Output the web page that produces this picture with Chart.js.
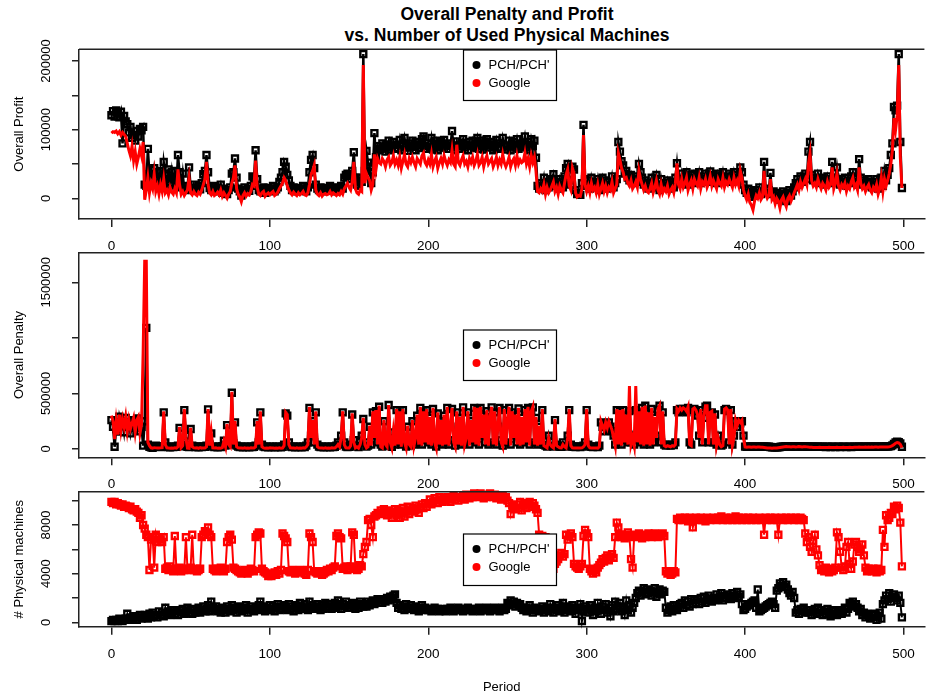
<!DOCTYPE html>
<html>
<head>
<meta charset="utf-8">
<script src="https://cdn.jsdelivr.net/npm/chart.js@4.4.1/dist/chart.umd.min.js"></script>
<style>
  body { margin: 0; background: #fff; width: 931px; height: 698px; overflow: hidden; position: relative;
         font-family: "Liberation Sans", Arial, sans-serif; }
  canvas { position: absolute; left: 0; }
  #title { position: absolute; left: 0; top: 4px; width: 1014px; text-align: center;
           font-weight: bold; font-size: 17.5px; line-height: 21px; color: #000; }
</style>
</head>
<body>
<div id="title">Overall Penalty and Profit<br>vs. Number of Used Physical Machines</div>
<canvas id="profitChart" width="931" height="256" style="top:0px"></canvas>
<canvas id="penaltyChart" width="931" height="256" style="top:240px"></canvas>
<canvas id="machineChart" width="931" height="228" style="top:470px"></canvas>
<script>
// periods 0..499
const periods = Array.from({ length: 500 }, (_, i) => i);
const periodTicks = [0, 100, 200, 300, 400, 500];

// overall profit, in thousands
const profitPCH = [
  121,127,119,128,124,118,126,80,120,112,
  108,96,104,88,92,84,98,90,101,99,
  104,20,18,72,35,41,28,44,30,38,
  22,40,18,53,36,15,42,20,38,14,
  40,18,63,38,16,36,12,18,14,45,
  16,12,20,14,11,18,13,22,35,40,
  63,38,15,12,18,10,14,16,12,20,
  8,14,10,6,12,16,36,38,58,30,
  14,10,4,12,16,9,14,11,18,32,
  30,70,28,12,10,14,16,8,12,15,
  11,14,18,10,13,16,24,30,38,53,
  46,34,26,18,12,16,14,10,15,12,
  14,18,12,10,16,38,56,63,44,20,
  14,12,16,10,13,15,11,14,18,12,
  16,13,10,15,12,18,14,30,34,36,
  32,28,40,67,30,20,18,30,24,210,
  40,69,52,46,22,38,95,60,76,70,
  72,80,74,68,78,84,70,76,82,73,
  78,72,85,70,76,88,74,69,80,77,
  84,75,70,82,78,73,86,90,76,72,
  80,74,88,71,78,84,70,76,82,74,
  85,79,72,80,76,98,74,70,83,77,
  72,81,86,74,78,70,82,76,84,73,
  79,88,72,76,84,71,80,86,74,78,
  82,70,76,85,72,80,74,88,77,71,
  76,84,70,78,82,74,86,72,80,75,
  78,90,74,82,70,86,76,84,59,18,
  14,22,18,30,12,24,16,20,28,35,
  18,24,14,28,20,16,32,44,50,26,
  20,46,42,12,6,8,5,22,107,28,
  18,26,14,30,20,24,16,28,12,22,
  30,18,26,14,24,20,32,16,22,28,
  82,68,54,48,36,40,30,26,34,22,
  28,32,24,50,38,30,20,26,18,14,
  22,30,16,24,34,20,12,28,16,22,
  18,26,14,20,24,16,30,51,28,22,
  36,24,30,38,20,28,34,22,36,30,
  26,38,22,32,28,36,24,30,39,26,
  34,28,22,36,30,26,38,24,32,28,
  36,30,24,38,28,34,26,45,38,20,
  12,8,14,6,2,10,4,12,8,16,
  6,10,53,14,8,12,37,6,10,2,
  8,4,-2,6,10,2,-4,8,12,4,
  10,16,22,28,20,32,24,30,36,28,
  68,82,34,26,30,24,36,28,22,30,
  26,20,32,24,28,53,22,30,45,26,
  20,28,24,30,18,26,22,32,38,24,
  28,20,57,30,22,26,18,24,28,20,
  16,24,20,28,14,22,30,18,40,26,
  34,44,63,80,133,128,135,210,82,15
];
const profitGoogle = [
  95,97,96,98,94,97,92,96,93,90,
  80,70,62,76,55,68,50,60,72,62,
  82,-2,12,30,8,22,14,35,10,18,
  6,20,10,28,8,12,5,16,9,6,
  14,8,42,20,6,10,4,8,12,30,
  8,5,10,6,4,9,6,12,20,28,
  53,20,8,5,10,4,6,9,5,12,
  3,8,4,0,6,10,22,30,48,14,
  6,2,-5,4,8,3,7,5,10,20,
  18,55,16,6,4,8,10,3,6,8,
  5,8,10,4,6,9,14,18,22,30,
  26,18,12,8,5,9,6,4,8,5,
  7,10,5,4,8,20,34,40,48,12,
  6,4,8,3,6,7,5,6,10,5,
  8,6,4,7,5,10,6,14,18,22,
  16,12,24,53,14,8,6,12,10,194,
  22,36,30,26,12,20,64,42,58,52,
  50,58,54,46,56,60,48,52,62,50,
  56,48,60,44,54,64,50,46,58,52,
  60,52,46,58,54,50,62,66,52,48,
  56,50,64,46,54,60,44,52,58,50,
  62,54,48,56,52,70,50,46,78,52,
  48,56,62,50,54,46,58,52,60,48,
  54,64,48,52,60,46,56,62,50,54,
  58,46,52,60,48,56,50,64,52,46,
  52,60,46,54,58,48,62,50,56,52,
  54,66,50,58,46,62,52,60,40,10,
  8,14,10,20,6,16,8,12,18,24,
  10,16,6,18,12,8,22,34,42,18,
  12,44,36,8,2,4,3,14,92,20,
  10,18,8,22,12,16,8,20,6,14,
  22,10,18,8,16,12,24,8,14,20,
  66,56,44,38,28,30,22,18,26,14,
  18,24,16,40,28,20,12,18,10,8,
  14,22,8,16,26,12,6,20,8,14,
  10,18,6,12,16,8,22,51,20,14,
  28,16,22,30,12,20,26,14,28,22,
  18,30,14,24,20,28,16,22,32,18,
  26,20,14,28,22,18,30,16,24,20,
  28,22,16,30,20,26,18,40,30,12,
  4,-2,6,-6,-10,-17,-4,4,0,8,
  -2,2,40,6,0,4,28,-2,2,-8,
  0,-4,-14,-2,2,-6,-12,0,4,-4,
  2,8,14,20,12,24,16,22,28,20,
  50,65,26,18,22,16,28,20,14,22,
  18,12,24,16,20,45,14,22,36,18,
  12,20,16,22,10,18,14,24,30,16,
  20,12,45,22,14,18,10,16,20,12,
  8,16,12,20,6,14,30,10,28,18,
  26,36,50,70,117,100,120,194,60,15
];
const profitTicks = [0, 50000, 100000, 150000, 200000];
const profitTickLabels = [0, 100000, 200000];

// overall penalty, in thousands
const penaltyPCH = [
  260,200,20,180,156,290,230,250,150,280,
  200,240,140,220,260,190,230,275,160,200,
  30,250,1090,40,20,15,10,25,30,20,
  20,18,25,330,60,22,18,15,20,18,
  22,20,30,190,25,40,350,120,20,18,
  180,30,22,18,20,16,24,18,22,20,
  30,357,40,140,22,18,20,15,22,18,
  25,75,30,215,60,40,506,50,240,30,
  22,18,20,16,22,18,20,15,22,18,
  20,30,240,60,330,40,22,18,20,16,
  22,18,20,16,20,18,22,15,20,40,
  320,300,60,22,18,20,16,22,18,20,
  16,22,18,30,60,370,120,250,60,330,
  40,22,18,20,16,22,18,20,15,22,
  18,20,30,60,40,120,330,60,22,18,
  20,40,310,80,22,30,18,60,120,270,
  60,22,30,200,40,330,120,340,60,380,
  40,22,250,60,30,396,80,20,150,40,
  350,60,330,40,350,80,22,200,60,30,
  250,40,120,300,60,370,40,330,80,350,
  60,280,40,360,80,22,320,60,250,40,
  300,60,370,40,200,360,80,30,330,60,
  280,40,375,60,120,330,40,250,80,370,
  60,360,40,370,120,300,60,340,40,280,
  375,60,330,40,200,370,80,30,350,60,
  250,370,40,330,120,300,60,365,40,280,
  60,350,80,370,40,330,375,60,280,40,
  200,60,350,40,30,22,120,60,30,22,
  260,40,30,22,20,60,30,22,120,350,
  40,22,20,18,22,20,18,22,30,60,
  350,40,22,20,18,22,20,18,30,240,
  200,160,230,180,240,200,160,120,40,350,
  60,340,40,350,80,300,60,340,60,120,
  40,350,80,330,60,370,40,390,60,320,
  40,360,60,280,120,350,390,60,330,40,
  30,40,35,30,40,35,60,350,330,360,
  340,360,350,330,370,60,40,350,360,340,
  300,120,350,60,280,380,390,60,320,330,
  60,310,40,120,60,30,40,350,360,340,
  60,350,40,120,250,200,250,230,250,120,
  22,20,21,22,20,21,22,20,21,22,
  20,21,22,20,21,20,18,16,15,16,
  15,16,18,20,22,24,23,25,24,22,
  23,24,22,23,25,24,22,23,24,22,
  21,20,22,21,20,19,20,21,19,20,
  19,18,20,19,18,20,19,18,19,20,
  18,19,20,19,18,19,20,18,19,20,
  19,20,21,19,20,21,20,19,21,20,
  21,20,22,21,20,22,21,22,21,23,
  22,24,26,32,45,60,66,62,50,20
];
const penaltyGoogle = [
  300,250,90,250,130,310,170,270,200,290,
  160,260,180,230,280,150,260,290,140,220,
  860,1690,1690,60,30,10,8,12,10,8,
  8,10,12,340,40,10,8,6,9,7,
  10,8,20,200,12,30,360,100,8,6,
  190,20,10,8,10,6,12,8,10,9,
  20,360,30,150,10,8,10,6,9,7,
  12,70,20,225,40,20,515,40,250,20,
  10,8,9,6,10,7,9,6,10,8,
  9,20,250,40,340,20,10,7,8,6,
  10,8,9,6,8,7,10,6,8,30,
  330,310,40,10,8,9,6,10,7,8,
  6,10,8,20,40,380,100,260,40,340,
  20,10,8,9,6,10,7,8,6,10,
  8,9,20,40,20,100,340,40,10,8,
  9,30,320,60,10,20,8,40,100,280,
  40,10,20,210,30,340,100,350,40,390,
  20,10,260,40,20,396,60,10,160,30,
  360,40,340,20,360,60,10,210,40,20,
  260,30,100,310,40,380,30,340,60,360,
  40,290,30,370,60,10,330,40,260,30,
  310,40,380,30,210,370,60,20,340,40,
  290,30,380,40,100,340,30,260,60,380,
  40,370,30,380,100,310,40,350,30,290,
  380,40,340,30,210,380,60,20,360,40,
  260,380,30,340,100,310,40,370,30,290,
  40,360,60,380,30,340,380,40,290,30,
  210,40,360,30,20,10,100,40,20,10,
  270,30,20,10,9,40,20,10,100,360,
  30,10,9,8,10,9,8,10,20,40,
  360,30,10,9,8,10,9,8,20,250,
  210,170,240,190,250,210,170,100,30,360,
  40,350,30,360,60,310,40,566,40,100,
  30,566,60,340,40,380,30,390,40,330,
  30,370,40,290,100,360,390,40,340,30,
  20,30,25,20,30,25,40,360,340,370,
  350,370,360,340,380,40,30,360,370,350,
  310,100,360,40,290,390,390,40,330,340,
  40,320,30,100,40,20,30,360,370,350,
  40,360,30,100,260,210,260,240,260,100,
  18,16,17,18,16,17,18,16,17,18,
  16,15,14,12,10,9,8,7,8,9,
  10,12,14,16,18,20,22,21,20,19,
  20,21,19,20,22,21,19,20,21,19,
  17,16,15,14,14,13,14,15,14,13,
  14,13,14,15,13,14,13,14,15,14,
  13,14,15,14,13,14,15,13,14,15,
  15,16,17,16,15,16,17,16,17,16,
  17,16,18,17,16,18,17,18,17,19,
  18,20,24,30,40,52,58,55,42,12
];
const penaltyTicks = [0, 500000, 1000000, 1500000];
const penaltyTickLabels = [0, 500000, 1500000];

// used physical machines, in hundreds
const machinesPCH = [
  1,2,1,2,1,3,2,1,2,3,
  7,3,2,4,3,5,2,4,6,3,
  4,6,5,3,7,4,8,5,6,4,
  9,6,8,5,12,7,9,6,8,10,
  7,9,6,10,8,11,7,9,12,8,
  10,7,11,8,9,12,8,10,13,9,
  11,14,9,17,12,10,13,9,11,8,
  12,10,8,13,11,9,14,10,12,8,
  11,13,9,12,10,14,8,11,13,10,
  9,12,10,14,17,11,13,9,12,10,
  14,11,13,9,12,15,10,13,11,14,
  12,10,15,11,13,9,14,12,10,16,
  13,11,15,12,10,17,12,14,11,13,
  15,12,10,14,11,16,13,12,15,11,
  13,16,12,18,14,11,15,13,17,12,
  14,12,16,13,11,15,12,17,14,13,
  15,13,17,14,16,18,15,17,19,16,
  18,16,19,17,20,18,21,19,22,23,
  16,12,14,11,13,10,15,12,11,14,
  12,10,13,11,9,12,14,10,12,11,
  10,11,9,10,12,10,11,9,10,11,
  10,9,11,10,12,10,9,11,10,12,
  11,10,9,11,10,12,10,11,9,10,
  11,10,12,9,10,11,10,12,10,9,
  11,10,12,11,10,9,11,12,10,11,
  16,14,18,15,17,13,16,14,15,12,
  10,12,9,11,14,10,8,12,10,11,
  9,11,13,8,10,12,9,15,11,8,
  12,10,14,9,11,16,8,10,13,12,
  9,14,11,7,12,10,15,1,9,13,
  11,8,14,10,6,12,9,16,11,7,
  13,10,15,8,12,5,14,9,17,11,
  13,16,9,12,6,18,10,14,8,12,
  16,20,24,26,22,25,28,23,27,24,
  26,22,25,28,21,24,27,23,26,25,
  12,8,10,13,9,14,11,10,13,15,
  16,12,18,14,17,13,19,15,18,16,
  19,15,20,17,21,16,18,22,19,17,
  20,18,23,19,21,24,18,22,20,23,
  21,19,24,22,20,25,21,23,15,10,
  11,13,14,15,16,17,18,12,27,9,
  10,11,12,13,14,15,16,17,15,12,
  26,28,32,30,33,29,31,27,24,22,
  25,20,8,10,7,11,9,12,8,10,
  8,10,6,9,11,7,12,8,10,6,
  9,7,11,8,5,10,7,9,6,8,
  10,7,9,12,8,11,16,14,17,13,
  15,12,9,11,6,8,4,7,5,3,
  6,4,7,2,5,8,3,15,18,22,
  19,24,17,21,23,20,18,22,16,4
];
const machinesGoogle = [
  99,98,99,97,98,97,96,97,95,96,
  95,94,95,93,92,93,91,90,86,88,
  80,77,72,70,43,68,70,45,72,66,
  70,68,66,70,44,45,43,46,44,42,
  71,44,43,45,42,44,43,70,44,43,
  45,72,43,44,42,43,44,70,72,75,
  74,78,72,70,44,43,42,44,43,45,
  43,42,44,66,70,72,68,45,44,43,
  42,41,40,42,43,41,40,42,44,43,
  42,70,72,74,73,44,42,41,40,38,
  39,38,40,41,39,42,40,43,73,71,
  69,66,42,41,43,42,40,41,42,43,
  41,42,40,39,43,73,70,66,42,41,
  40,42,41,39,40,41,43,42,44,43,
  45,46,71,73,70,69,44,45,46,43,
  44,46,74,72,45,43,44,47,46,56,
  62,66,84,85,80,70,87,88,90,89,
  92,90,93,91,88,92,90,86,91,93,
  88,92,86,90,94,87,91,95,89,92,
  94,91,96,93,90,95,97,94,98,95,
  98,101,97,99,102,100,98,103,101,99,
  102,100,103,101,99,102,104,101,103,100,
  103,102,104,101,105,103,102,104,103,106,
  105,103,104,106,104,102,105,103,104,106,
  104,103,105,102,104,103,101,104,102,103,
  100,98,89,96,95,93,97,94,99,92,
  96,98,94,97,99,95,98,96,93,90,
  72,70,71,69,70,58,51,47,46,44,
  48,50,52,55,57,54,56,72,68,71,
  73,70,48,46,45,44,46,48,71,76,
  73,70,44,42,40,43,41,45,47,49,
  52,50,53,55,51,54,56,53,70,82,
  78,72,70,71,69,72,74,70,52,45,
  71,72,70,73,71,69,72,70,71,73,
  72,70,71,73,72,70,71,72,73,71,
  42,40,41,39,40,42,41,85,84,86,
  85,84,86,85,83,86,84,78,85,86,
  84,85,86,84,85,83,86,85,84,85,
  86,85,84,86,85,87,84,85,86,84,
  85,86,84,85,87,84,86,85,84,86,
  85,84,86,85,84,86,85,84,85,86,
  84,85,72,86,84,85,86,84,85,86,
  84,72,85,86,84,85,86,84,85,86,
  85,84,86,85,84,86,85,84,73,66,
  70,62,58,67,72,60,55,47,43,44,
  42,45,43,41,44,42,43,45,74,70,
  58,45,43,46,62,66,48,44,50,64,
  66,62,58,60,64,55,45,42,44,43,
  42,44,43,41,44,42,43,76,62,88,
  84,86,90,89,95,93,96,94,82,46
];
const machineTicks = [0, 2000, 4000, 6000, 8000, 10000];
const machineTickLabels = [0, 4000, 8000];

const FONT = '"Liberation Sans", Arial, sans-serif';
Chart.defaults.font.family = FONT;
Chart.defaults.font.size = 13;
Chart.defaults.color = '#000';

// box top edge, upright-reading y labels and the boxed legend
const frame = {
  id: 'frame',
  afterDraw(chart, args, opts) {
    const { ctx, chartArea: a, scales } = chart;
    ctx.save();
    ctx.strokeStyle = '#222';
    ctx.lineWidth = 1.5;
    ctx.beginPath();
    ctx.moveTo(a.left, a.top);
    ctx.lineTo(a.right, a.top);
    ctx.stroke();

    ctx.fillStyle = '#000';
    ctx.font = '13px ' + FONT;
    ctx.textAlign = 'center';
    ctx.textBaseline = 'middle';
    opts.yLabels.forEach(v => {
      ctx.save();
      ctx.translate(a.left - 33, scales.y.getPixelForValue(v));
      ctx.rotate(-Math.PI / 2);
      ctx.fillText(String(v), 0, 0);
      ctx.restore();
    });

    const L = opts.legend;
    ctx.fillStyle = '#fff';
    ctx.fillRect(L.x, L.y, L.w, L.h);
    ctx.strokeStyle = '#000';
    ctx.lineWidth = 1.2;
    ctx.strokeRect(L.x, L.y, L.w, L.h);
    ctx.textAlign = 'left';
    chart.data.datasets.forEach((ds, i) => {
      const y = L.y + 15 + i * 18;
      ctx.fillStyle = ds.borderColor;
      ctx.beginPath();
      ctx.arc(L.x + 13, y, 4, 0, Math.PI * 2);
      ctx.fill();
      ctx.fillStyle = '#000';
      ctx.fillText(ds.label, L.x + 25, y);
    });
    ctx.restore();
  }
};

function series(label, values, unit, color, opts) {
  return Object.assign({
    label: label,
    data: values.map(v => v * unit),
    borderColor: color,
    backgroundColor: color,
    borderWidth: 2.5,
    pointStyle: 'rect',
    pointRadius: 4.2,
    pointBorderWidth: 2.4,
    pointBorderColor: color,
    pointBackgroundColor: 'rgba(0,0,0,0)',
    clip: false
  }, opts);
}

function panel(id, cfg) {
  const axisLine = { display: true, color: '#222', width: 1.5 };
  return new Chart(document.getElementById(id), {
    type: 'line',
    data: { labels: periods, datasets: cfg.datasets },
    options: {
      responsive: false,
      animation: false,
      events: [],
      layout: { padding: { top: cfg.top, left: 0, right: 0, bottom: 0 } },
      elements: { line: { tension: 0 } },
      plugins: {
        legend: { display: false },
        tooltip: { enabled: false },
        frame: { yLabels: cfg.yLabels, legend: cfg.legend }
      },
      scales: {
        x: {
          type: 'linear',
          min: -20.48,
          max: 513.2,
          afterBuildTicks: s => { s.ticks = periodTicks.map(v => ({ value: v })); },
          afterFit: s => { s.height = cfg.xHeight; s.paddingLeft = 0; s.paddingRight = 0; },
          grid: { drawOnChartArea: false, tickLength: 8, color: '#222', lineWidth: 1.5 },
          border: axisLine,
          ticks: { padding: 11, maxRotation: 0, color: '#000', font: { size: 13.5 } },
          title: cfg.xTitle || { display: false }
        },
        y: {
          type: 'linear',
          min: cfg.yMin,
          max: cfg.yMax,
          afterBuildTicks: s => { s.ticks = cfg.yTicks.map(v => ({ value: v })); },
          afterFit: s => { s.width = 79; s.paddingTop = 0; s.paddingBottom = 0; },
          grid: { drawOnChartArea: false, tickLength: 7, color: '#222', lineWidth: 1.5 },
          border: axisLine,
          ticks: { display: false },
          title: { display: true, text: cfg.yTitle, color: '#000', padding: { top: 12, bottom: 0 } }
        }
      }
    },
    plugins: [frame]
  });
}

panel('profitChart', {
  top: 49.3, xHeight: 37, yMin: -30150, yMax: 217000,
  yTicks: profitTicks, yLabels: profitTickLabels, yTitle: 'Overall Profit',
  legend: { x: 463.5, y: 50, w: 93, h: 50.5 },
  datasets: [
    series("PCH/PCH'", profitPCH, 1000, '#000000', { order: 1 }),
    series('Google', profitGoogle, 1000, '#ff0000', { order: 0, borderWidth: 3, pointRadius: 0 })
  ]
});

panel('penaltyChart', {
  top: 12.7, xHeight: 38.7, yMin: -74700, yMax: 1766000,
  yTicks: penaltyTicks, yLabels: penaltyTickLabels, yTitle: 'Overall Penalty',
  legend: { x: 463.5, y: 90, w: 93, h: 50.5 },
  datasets: [
    series("PCH/PCH'", penaltyPCH, 1000, '#000000', { order: 1 }),
    series('Google', penaltyGoogle, 1000, '#ff0000', { order: 0, borderWidth: 3, pointRadius: 0 })
  ]
});

panel('machineChart', {
  top: 21.7, xHeight: 71.3, yMin: -362, yMax: 10740,
  yTicks: machineTicks, yLabels: machineTickLabels, yTitle: '# Physical machines',
  xTitle: { display: true, text: 'Period', color: '#000', padding: { top: 0, bottom: 3 } },
  legend: { x: 463.5, y: 64, w: 93, h: 51.5 },
  datasets: [
    series("PCH/PCH'", machinesPCH, 100, '#000000', { order: 1, borderWidth: 2 }),
    series('Google', machinesGoogle, 100, '#ff0000', { order: 0, borderWidth: 2 })
  ]
});
</script>
</body>
</html>
